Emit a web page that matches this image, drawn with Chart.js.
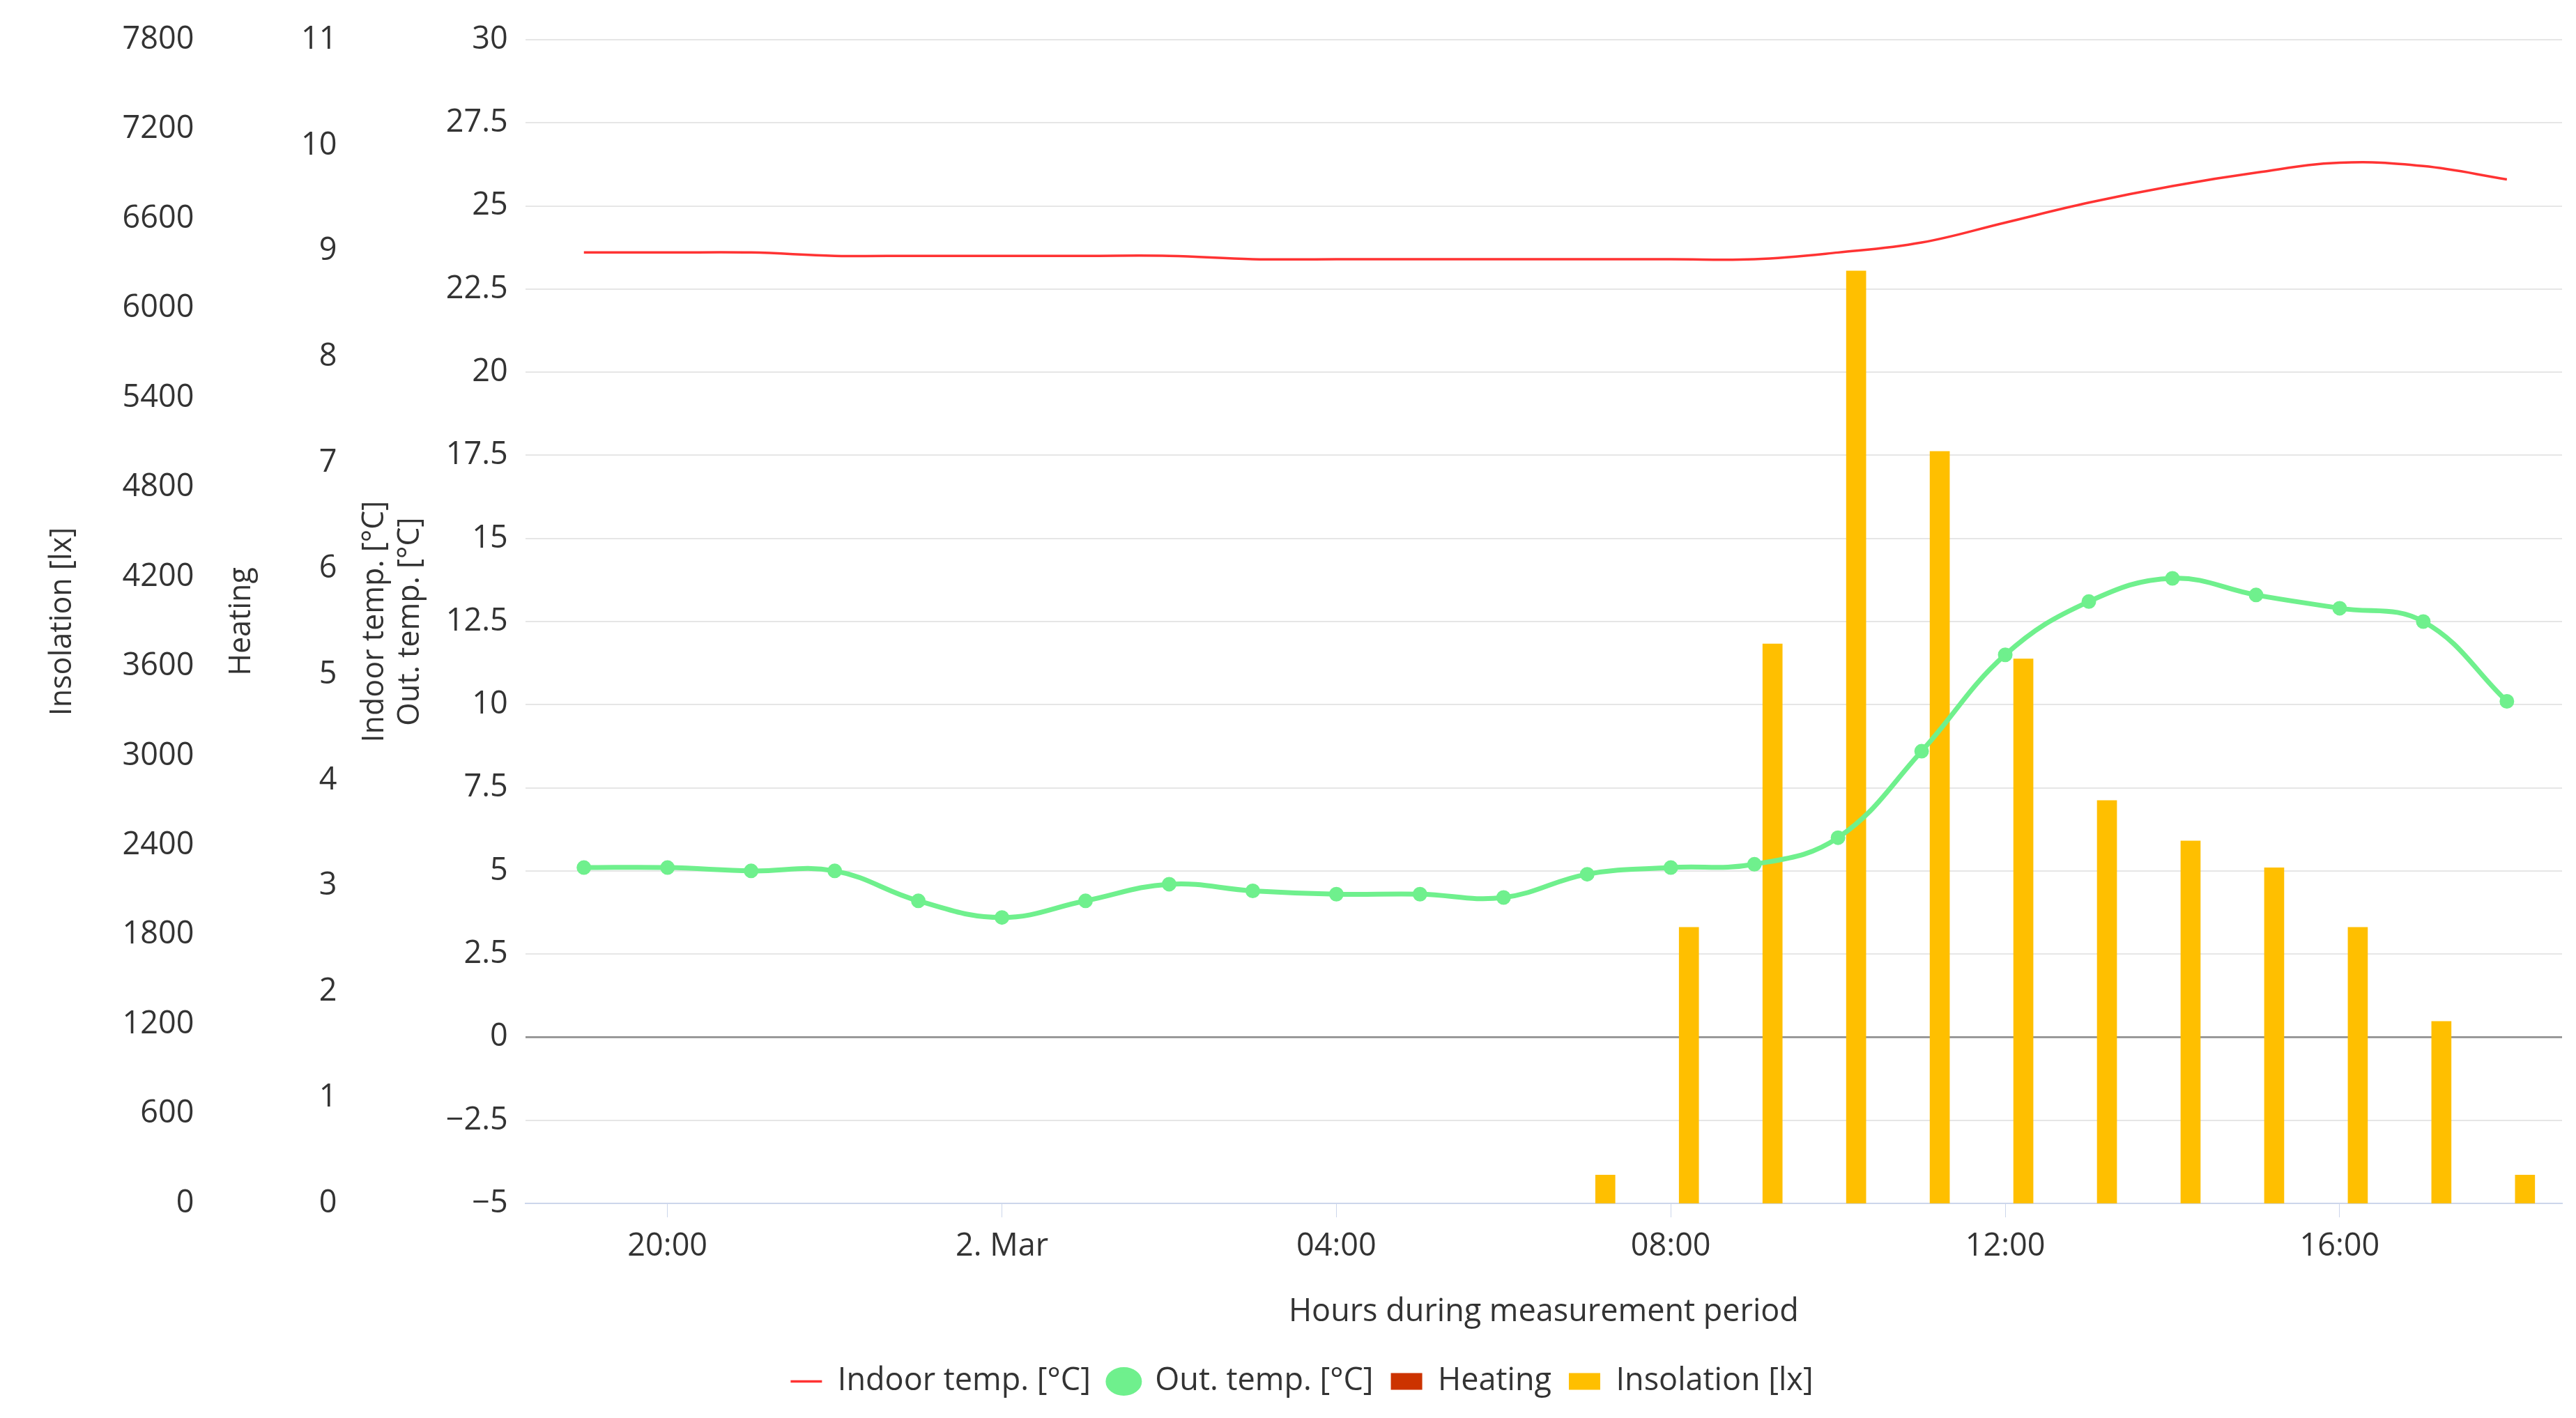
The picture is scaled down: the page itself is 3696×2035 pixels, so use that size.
<!DOCTYPE html>
<html><head><meta charset="utf-8">
<script src="https://cdn.jsdelivr.net/npm/chart.js@4"></script>
<style>html,body{margin:0;padding:0;background:#fff}#w{width:3696px;height:2035px}</style>
</head><body><div id="w"><canvas id="c"></canvas></div>
<script>
const hours = [0,1,2,3,4,5,6,7,8,9,10,11,12,13,14,15,16,17,18,19,20,21,22,23]; // hours since 19:00
const indoorTemp = [23.6,23.6,23.6,23.5,23.5,23.5,23.5,23.5,23.4,23.4,23.4,23.4,23.4,23.4,23.4,23.6,23.9,24.5,25.1,25.6,26.0,26.3,26.2,25.8];
const outTemp = [5.1,5.1,5.0,5.0,4.1,3.6,4.1,4.6,4.4,4.3,4.3,4.2,4.9,5.1,5.2,6.0,8.6,11.5,13.1,13.8,13.3,12.9,12.5,10.1];
const heating = [];
const insolHours = [12,13,14,15,16,17,18,19,20,21,22,23];
const insolation = [190,1850,3750,6250,5040,3650,2700,2430,2250,1850,1220,190];
const xTickPos = [1,5,9,13,17,21];
const xTickLabels = ['20:00','2. Mar','04:00','08:00','12:00','16:00'];

const F = 'Open Sans';
const txt = '#333';
Chart.defaults.font.family = F;
Chart.defaults.font.size = 45;
Chart.defaults.color = txt;

new Chart(document.getElementById('c'), {
  data: {
    datasets: [
      {type:'line', label:'Indoor temp. [°C]', data: hours.map((h,i)=>({x:h,y:indoorTemp[i]})), yAxisID:'yT',
       borderColor:'#ff3333', backgroundColor:'#ff3333', borderWidth:3.5, pointRadius:0, tension:0.4, pointStyle:'line'},
      {type:'line', label:'Out. temp. [°C]', data: hours.map((h,i)=>({x:h,y:outTemp[i]})), yAxisID:'yT',
       borderColor:'#6ff08d', backgroundColor:'#6ff08d', borderWidth:7, pointRadius:7, tension:0.4, pointStyle:'circle'},
      {type:'bar', label:'Heating', data: heating, yAxisID:'yH', backgroundColor:'#cc3300', pointStyle:'rect'},
      {type:'bar', label:'Insolation [lx]', data: insolHours.map((h,i)=>({x:h+0.1,y:insolation[i]})), yAxisID:'yI',
       backgroundColor:'#ffbf00', barThickness:28, pointStyle:'rect'}
    ]
  },
  options: {
    responsive:true, maintainAspectRatio:false, animation:false, devicePixelRatio:1,
    layout:{padding:{left:60,right:20,top:45,bottom:20}},
    plugins:{
      legend:{position:'bottom', labels:{usePointStyle:true, pointStyleWidth:45, boxHeight:24, font:{size:45}, color:txt, padding:25}},
      tooltip:{enabled:false}
    },
    scales:{
      x:{type:'linear', min:-0.7, max:23.66, offset:false,
         afterBuildTicks: ax => { ax.ticks = xTickPos.map(v=>({value:v})); },
         ticks:{callback:(v)=>{const i=xTickPos.indexOf(v);return i>=0?xTickLabels[i]:'';}, padding:15, font:{size:45}},
         grid:{display:true, drawOnChartArea:false, tickLength:20, color:'#ccd6eb', offset:false},
         border:{color:'#ccd6eb', width:2},
         title:{display:true, text:'Hours during measurement period', font:{size:45}, padding:{top:25, bottom:25}}},
      yT:{position:'left', weight:0, min:-5, max:30,
          ticks:{stepSize:2.5, callback:v=>String(v).replace('-','\u2212'), padding:25},
          grid:{color:ctx=>ctx.tick && ctx.tick.value===0 ? '#999' : '#e6e6e6', lineWidth:ctx=>ctx.tick && ctx.tick.value===0 ? 3 : 2, drawTicks:false},
          border:{display:false},
          title:{display:true, text:['Indoor temp. [°C]','Out. temp. [°C]'], font:{size:43}, padding:0}},
      yH:{position:'left', weight:1, min:0, max:11,
          ticks:{stepSize:1, padding:20, callback:v=>String(v)},
          grid:{display:false}, border:{display:false},
          title:{display:true, text:'Heating', font:{size:43}, padding:{bottom:40}}},
      yI:{position:'left', weight:2, min:0, max:7800,
          ticks:{stepSize:600, padding:30, callback:v=>String(v)},
          grid:{display:false}, border:{display:false},
          title:{display:true, text:'Insolation [lx]', font:{size:43}, padding:{bottom:30}}}
    }
  }
});
</script></body></html>
